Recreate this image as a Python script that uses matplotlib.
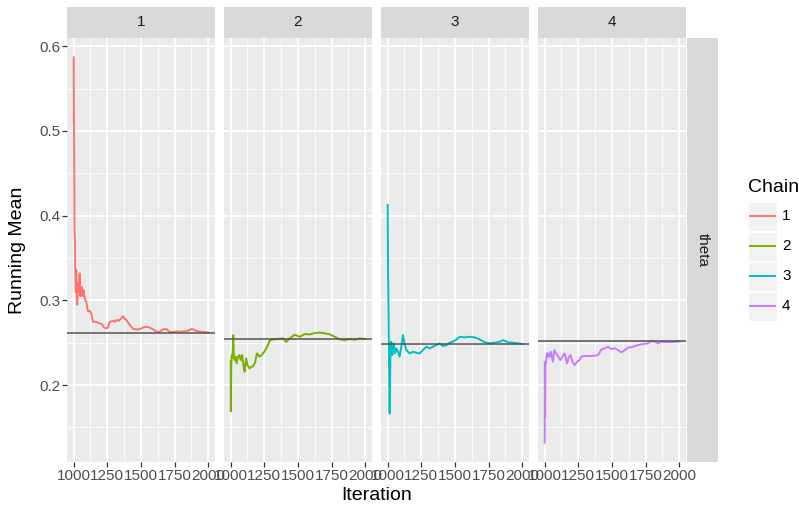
import matplotlib.pyplot as plt
from matplotlib.patches import Rectangle
import numpy as np

# running means of theta for 4 chains
iters1 = [1001, 1002, 1003, 1005, 1007, 1010, 1013, 1016, 1020, 1024, 1028, 1033, 1038, 1045, 1050,
          1055, 1062, 1068, 1074, 1080, 1088, 1095, 1103, 1110, 1120, 1130, 1144, 1160, 1175, 1193,
          1210, 1225, 1243, 1255, 1265, 1275, 1293, 1310, 1320, 1337, 1355, 1367, 1380, 1392, 1417,
          1441, 1466, 1491, 1516, 1541, 1565, 1590, 1615, 1640, 1665, 1690, 1714, 1739, 1764, 1789,
          1814, 1838, 1860, 1875, 1895, 1913, 1940, 1962, 1980, 2000]
chain1 = [0.587, 0.51, 0.52, 0.45, 0.38, 0.37, 0.33, 0.31, 0.336, 0.30, 0.295, 0.32, 0.31, 0.332, 0.305,
          0.31, 0.316, 0.305, 0.312, 0.305, 0.300, 0.298, 0.289, 0.287, 0.288, 0.285, 0.275, 0.275, 0.274, 0.273,
          0.272, 0.268, 0.267, 0.268, 0.274, 0.275, 0.276, 0.275, 0.277, 0.276, 0.279, 0.2815, 0.278, 0.277, 0.271,
          0.2665, 0.2658, 0.266, 0.268, 0.269, 0.268, 0.2658, 0.263, 0.263, 0.266, 0.266, 0.2627, 0.2627, 0.2635, 0.263,
          0.2633, 0.2638, 0.265, 0.2662, 0.2655, 0.2638, 0.263, 0.263, 0.2625, 0.2622]

iters2 = [1001, 1002, 1003, 1005, 1008, 1012, 1016, 1020, 1024, 1030, 1037, 1045, 1055, 1065, 1075,
          1085, 1095, 1104, 1110, 1116, 1125, 1141, 1155, 1166, 1180, 1196, 1205, 1216, 1230, 1250,
          1265, 1277, 1290, 1315, 1352, 1389, 1414, 1439, 1476, 1513, 1550, 1588, 1625, 1662, 1699,
          1737, 1774, 1811, 1848, 1885, 1923, 1960, 2000]
chain2 = [0.228, 0.169, 0.19, 0.2236, 0.235, 0.232, 0.2414, 0.259, 0.235, 0.2296, 0.2335, 0.2256, 0.2335, 0.2355, 0.2296,
          0.2355, 0.2236, 0.2158, 0.226, 0.2315, 0.2236, 0.2197, 0.2217, 0.222, 0.226, 0.2375, 0.2355, 0.2335, 0.2355, 0.2394,
          0.2434, 0.247, 0.2525, 0.254, 0.2544, 0.2552, 0.251, 0.2552, 0.2595, 0.257, 0.2603, 0.2599, 0.2615, 0.262, 0.2611,
          0.2599, 0.257, 0.254, 0.2532, 0.2544, 0.2536, 0.2552, 0.2544]

iters3 = [1001, 1003, 1006, 1010, 1015, 1022, 1027, 1035, 1045, 1055, 1064, 1077, 1089, 1102, 1114,
          1126, 1139, 1164, 1188, 1213, 1238, 1263, 1288, 1312, 1337, 1362, 1387, 1412, 1437, 1461,
          1486, 1511, 1536, 1573, 1610, 1647, 1684, 1722, 1759, 1796, 1833, 1858, 1895, 1932, 1970, 2000]
chain3 = [0.4128, 0.34, 0.3005, 0.2335, 0.1665, 0.2453, 0.2512, 0.2355, 0.2493, 0.2374, 0.2434, 0.2394, 0.2335, 0.2453, 0.2591,
          0.2493, 0.2414, 0.2374, 0.2394, 0.2382, 0.2374, 0.2414, 0.2453, 0.2434, 0.2453, 0.2473, 0.2493, 0.2461, 0.2473, 0.2501,
          0.2512, 0.254, 0.2571, 0.2563, 0.2571, 0.2563, 0.254, 0.2505, 0.2493, 0.2501, 0.2512, 0.2532, 0.2505, 0.2501, 0.2493, 0.2485]

iters4 = [1001, 1002, 1003, 1004, 1006, 1010, 1016, 1022, 1030, 1037, 1047, 1062, 1072, 1087, 1102,
          1117, 1131, 1149, 1166, 1181, 1193, 1206, 1223, 1241, 1260, 1273, 1298, 1335, 1372, 1397,
          1422, 1446, 1471, 1496, 1521, 1546, 1570, 1595, 1620, 1657, 1694, 1732, 1769, 1794, 1818,
          1843, 1868, 1905, 1942, 1980, 2000]
chain4 = [0.132, 0.2276, 0.18, 0.1625, 0.2276, 0.2256, 0.2374, 0.2335, 0.2374, 0.2335, 0.2394, 0.2276, 0.2414, 0.2374, 0.2335,
          0.2296, 0.2335, 0.2374, 0.2256, 0.2335, 0.2355, 0.2276, 0.2236, 0.2276, 0.2296, 0.2335, 0.2343, 0.2343, 0.2347, 0.2355,
          0.2422, 0.2434, 0.2453, 0.2426, 0.2434, 0.2414, 0.2386, 0.2414, 0.2442, 0.2453, 0.2473, 0.2485, 0.2493, 0.2524, 0.2512,
          0.2493, 0.2512, 0.2508, 0.2508, 0.2512, 0.2516]

chain_means = [0.261, 0.254, 0.249, 0.2524]
chain_labels = ["1", "2", "3", "4"]
x_ticks = [1000, 1250, 1500, 1750, 2000]
y_ticks = [0.2, 0.3, 0.4, 0.5, 0.6]

colors = ["#F8766D", "#7CAE00", "#00BFC4", "#C77CFF"]
series = [(iters1, chain1), (iters2, chain2), (iters3, chain3), (iters4, chain4)]

plt.rcParams['font.family'] = ['Liberation Sans', 'DejaVu Sans']

W, H = 799, 508
fig = plt.figure(figsize=(W / 100, H / 100), dpi=100)

def fx(px):
    return px / W

def fy(py):
    return 1 - py / H

panel_left = [67, 224, 381, 538]
panel_w = 148
top, bottom = 38, 462

all_y = np.concatenate([np.array(v) for _, v in series])
ylo, yhi = all_y.min(), all_y.max()
ypad = (yhi - ylo) * 0.05
xpad = (2000 - 1001) * 0.05

for i, (it, val) in enumerate(series):
    ax = fig.add_axes([fx(panel_left[i]), fy(bottom), fx(panel_w), (bottom - top) / H])
    ax.set_facecolor("#EBEBEB")
    ax.set_xlim(1001 - xpad, 2000 + xpad)
    ax.set_ylim(ylo - ypad, yhi + ypad)
    ax.set_xticks(x_ticks)
    ax.set_xticks([1125, 1375, 1625, 1875], minor=True)
    ax.set_yticks(y_ticks)
    ax.set_yticks([0.15, 0.25, 0.35, 0.45, 0.55], minor=True)
    ax.grid(True, which="major", color="white", lw=1.3)
    ax.grid(True, which="minor", color="white", lw=0.6)
    ax.set_axisbelow(True)
    for s in ax.spines.values():
        s.set_visible(False)
    ax.tick_params(which="major", length=3.5, width=0.9, color="#333333",
                   labelsize=11, labelcolor="#4D4D4D", pad=1.5)
    ax.tick_params(which="minor", length=0)
    ax.set_xticklabels([str(t) for t in x_ticks])
    if i == 0:
        ax.set_yticklabels([f"{t:.1f}" for t in y_ticks])
    else:
        ax.tick_params(axis="y", which="major", length=0, labelleft=False)

    ax.plot(it, val, color=colors[i], lw=1.4, zorder=3)
    ax.axhline(chain_means[i], color="#4D4D4D", alpha=0.75, lw=1.4, zorder=4)

    # top strip
    sax = fig.add_axes([fx(panel_left[i]), fy(top), fx(panel_w), (top - 7) / H])
    sax.set_facecolor("#D9D9D9")
    sax.set_xticks([])
    sax.set_yticks([])
    for s in sax.spines.values():
        s.set_visible(False)
    sax.text(0.5, 0.5, chain_labels[i], ha="center", va="center", fontsize=11, color="#1A1A1A",
             transform=sax.transAxes)

# right strip
rax = fig.add_axes([fx(687), fy(bottom), fx(31), (bottom - top) / H])
rax.set_facecolor("#D9D9D9")
rax.set_xticks([])
rax.set_yticks([])
for s in rax.spines.values():
    s.set_visible(False)
rax.text(0.5, 0.5, "theta", rotation=-90, ha="center", va="center", fontsize=11, color="#1A1A1A",
         transform=rax.transAxes)

fig.text(fx(18), fy(250), "Running Mean", rotation=90, ha="center", va="center", fontsize=14)
fig.text(fx(376.5), fy(496), "Iteration", ha="center", va="center", fontsize=14)

# legend
lax = fig.add_axes([0, 0, 1, 1])
lax.set_xlim(0, W)
lax.set_ylim(H, 0)
lax.axis("off")
lax.text(748, 187, "Chain", ha="left", va="center", fontsize=14)
key_top, key_h = 201, 30
for i, lab in enumerate(chain_labels):
    y0 = key_top + i * key_h
    lax.add_patch(Rectangle((748, y0 + 0.5), 29, key_h - 1, facecolor="#F2F2F2", edgecolor="white", lw=1))
    lax.plot([750, 775], [y0 + key_h / 2, y0 + key_h / 2], color=colors[i], lw=1.4)
    lax.text(782, y0 + key_h / 2, lab, ha="left", va="center", fontsize=11)

fig.savefig("out.png", dpi=100)
